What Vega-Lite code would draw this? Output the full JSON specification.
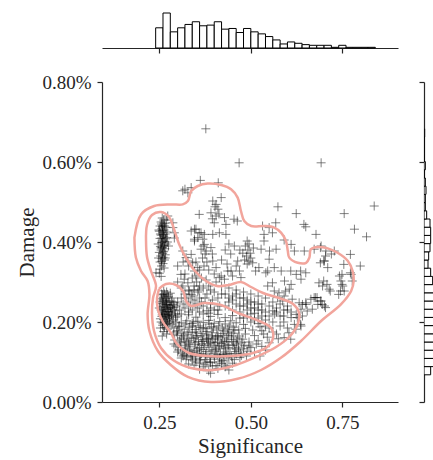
{
  "$schema": "https://vega.github.io/schema/vega-lite/v6.json",
  "autosize": {"type": "pad"},
  "padding": {"left": 16, "top": 12, "right": 0, "bottom": 6},
  "background": "white",
  "bounds": "flush",
  "columns": 2,
  "spacing": {"row": 34, "column": 26},
  "resolve": {"scale": {"x": "independent", "y": "independent"}},
  "config": {
    "view": {"stroke": null},
    "axis": {
      "grid": false,
      "labelFont": "Liberation Serif",
      "labelFontSize": 19,
      "labelColor": "#262626",
      "titleFont": "Liberation Serif",
      "titleFontSize": 21,
      "titleFontWeight": "normal",
      "titleColor": "#262626",
      "domainColor": "#262626",
      "tickColor": "#262626",
      "domainWidth": 1.2,
      "tickWidth": 1.2,
      "tickSize": 5,
      "labelPadding": 6
    }
  },
  "datasets": {
    "sigHist": [
      {"lo":0.24,"hi":0.26,"n":30},{"lo":0.26,"hi":0.28,"n":52},{"lo":0.28,"hi":0.30,"n":24},
      {"lo":0.30,"hi":0.32,"n":30},{"lo":0.32,"hi":0.34,"n":35},{"lo":0.34,"hi":0.36,"n":39},
      {"lo":0.36,"hi":0.38,"n":33},{"lo":0.38,"hi":0.40,"n":34},{"lo":0.40,"hi":0.42,"n":39},
      {"lo":0.42,"hi":0.44,"n":28},{"lo":0.44,"hi":0.46,"n":29},{"lo":0.46,"hi":0.48,"n":23},
      {"lo":0.48,"hi":0.50,"n":29},{"lo":0.50,"hi":0.52,"n":24},{"lo":0.52,"hi":0.54,"n":21},
      {"lo":0.54,"hi":0.56,"n":17},{"lo":0.56,"hi":0.58,"n":12},{"lo":0.58,"hi":0.60,"n":6},
      {"lo":0.60,"hi":0.62,"n":9},{"lo":0.62,"hi":0.64,"n":7},{"lo":0.64,"hi":0.66,"n":5},
      {"lo":0.66,"hi":0.68,"n":4},{"lo":0.68,"hi":0.70,"n":4},{"lo":0.70,"hi":0.72,"n":4},
      {"lo":0.72,"hi":0.74,"n":1},{"lo":0.74,"hi":0.76,"n":4},{"lo":0.76,"hi":0.78,"n":1},
      {"lo":0.78,"hi":0.80,"n":1},{"lo":0.80,"hi":0.82,"n":1},{"lo":0.82,"hi":0.84,"n":1}
    ],
    "dmgHist": [
      {"lo":0.068,"hi":0.0885,"n":10},{"lo":0.0885,"hi":0.109,"n":30},{"lo":0.109,"hi":0.1295,"n":45},
      {"lo":0.1295,"hi":0.15,"n":50},{"lo":0.15,"hi":0.1705,"n":50},{"lo":0.1705,"hi":0.191,"n":48},
      {"lo":0.191,"hi":0.2115,"n":46},{"lo":0.2115,"hi":0.232,"n":42},{"lo":0.232,"hi":0.2525,"n":36},
      {"lo":0.2525,"hi":0.273,"n":28},{"lo":0.273,"hi":0.2935,"n":20},{"lo":0.2935,"hi":0.314,"n":13},
      {"lo":0.314,"hi":0.3345,"n":10},{"lo":0.3345,"hi":0.355,"n":6},{"lo":0.355,"hi":0.3755,"n":7},
      {"lo":0.3755,"hi":0.396,"n":9},{"lo":0.396,"hi":0.4165,"n":10},{"lo":0.4165,"hi":0.437,"n":10},
      {"lo":0.437,"hi":0.4575,"n":9},{"lo":0.4575,"hi":0.478,"n":4},{"lo":0.478,"hi":0.4985,"n":2},
      {"lo":0.4985,"hi":0.519,"n":2},{"lo":0.519,"hi":0.5395,"n":3},{"lo":0.5395,"hi":0.56,"n":2},
      {"lo":0.56,"hi":0.5805,"n":0},{"lo":0.5805,"hi":0.601,"n":2},{"lo":0.601,"hi":0.6215,"n":0},
      {"lo":0.6215,"hi":0.642,"n":0},{"lo":0.642,"hi":0.6625,"n":0},{"lo":0.6625,"hi":0.683,"n":1}
    ],
    "levels": [
      {"lvl":1,"i":0,"sig":0.182,"dmg":0.411},{"lvl":1,"i":1,"sig":0.200,"dmg":0.469},{"lvl":1,"i":2,"sig":0.236,"dmg":0.49},
      {"lvl":1,"i":3,"sig":0.282,"dmg":0.494},{"lvl":1,"i":4,"sig":0.314,"dmg":0.494},{"lvl":1,"i":5,"sig":0.328,"dmg":0.5025},
      {"lvl":1,"i":6,"sig":0.337,"dmg":0.5275},{"lvl":1,"i":7,"sig":0.355,"dmg":0.54},{"lvl":1,"i":8,"sig":0.382,"dmg":0.546},
      {"lvl":1,"i":9,"sig":0.419,"dmg":0.5425},{"lvl":1,"i":10,"sig":0.446,"dmg":0.532},{"lvl":1,"i":11,"sig":0.464,"dmg":0.511},
      {"lvl":1,"i":12,"sig":0.473,"dmg":0.4775},{"lvl":1,"i":13,"sig":0.482,"dmg":0.4525},{"lvl":1,"i":14,"sig":0.501,"dmg":0.44},
      {"lvl":1,"i":15,"sig":0.537,"dmg":0.44},{"lvl":1,"i":16,"sig":0.564,"dmg":0.436},{"lvl":1,"i":17,"sig":0.583,"dmg":0.423},
      {"lvl":1,"i":18,"sig":0.596,"dmg":0.4025},{"lvl":1,"i":19,"sig":0.601,"dmg":0.3775},{"lvl":1,"i":20,"sig":0.605,"dmg":0.361},
      {"lvl":1,"i":21,"sig":0.628,"dmg":0.348},{"lvl":1,"i":22,"sig":0.651,"dmg":0.348},{"lvl":1,"i":23,"sig":0.66,"dmg":0.361},
      {"lvl":1,"i":24,"sig":0.664,"dmg":0.382},{"lvl":1,"i":25,"sig":0.683,"dmg":0.3875},{"lvl":1,"i":26,"sig":0.71,"dmg":0.384},
      {"lvl":1,"i":27,"sig":0.737,"dmg":0.373},{"lvl":1,"i":28,"sig":0.765,"dmg":0.3525},{"lvl":1,"i":29,"sig":0.778,"dmg":0.3275},
      {"lvl":1,"i":30,"sig":0.781,"dmg":0.3025},{"lvl":1,"i":31,"sig":0.774,"dmg":0.2775},{"lvl":1,"i":32,"sig":0.746,"dmg":0.244},
      {"lvl":1,"i":33,"sig":0.692,"dmg":0.2025},{"lvl":1,"i":34,"sig":0.637,"dmg":0.1525},{"lvl":1,"i":35,"sig":0.583,"dmg":0.111},
      {"lvl":1,"i":36,"sig":0.528,"dmg":0.08},{"lvl":1,"i":37,"sig":0.464,"dmg":0.058},{"lvl":1,"i":38,"sig":0.391,"dmg":0.05},
      {"lvl":1,"i":39,"sig":0.328,"dmg":0.063},{"lvl":1,"i":40,"sig":0.282,"dmg":0.092},{"lvl":1,"i":41,"sig":0.246,"dmg":0.1275},
      {"lvl":1,"i":42,"sig":0.223,"dmg":0.1775},{"lvl":1,"i":43,"sig":0.218,"dmg":0.219},{"lvl":1,"i":44,"sig":0.223,"dmg":0.269},
      {"lvl":1,"i":45,"sig":0.218,"dmg":0.3025},{"lvl":1,"i":46,"sig":0.2,"dmg":0.3275},{"lvl":1,"i":47,"sig":0.186,"dmg":0.361},
      {"lvl":1,"i":48,"sig":0.182,"dmg":0.411},

      {"lvl":2,"i":0,"sig":0.2137,"dmg":0.4025},{"lvl":2,"i":1,"sig":0.2164,"dmg":0.4425},{"lvl":2,"i":2,"sig":0.23,"dmg":0.4675},
      {"lvl":2,"i":3,"sig":0.2546,"dmg":0.475},{"lvl":2,"i":4,"sig":0.2765,"dmg":0.4625},{"lvl":2,"i":5,"sig":0.29,"dmg":0.4325},
      {"lvl":2,"i":6,"sig":0.3038,"dmg":0.395},{"lvl":2,"i":7,"sig":0.323,"dmg":0.36},{"lvl":2,"i":8,"sig":0.3475,"dmg":0.3275},
      {"lvl":2,"i":9,"sig":0.3776,"dmg":0.3025},{"lvl":2,"i":10,"sig":0.4077,"dmg":0.29},{"lvl":2,"i":11,"sig":0.4405,"dmg":0.2925},
      {"lvl":2,"i":12,"sig":0.4732,"dmg":0.30},{"lvl":2,"i":13,"sig":0.5005,"dmg":0.2875},{"lvl":2,"i":14,"sig":0.5333,"dmg":0.2725},
      {"lvl":2,"i":15,"sig":0.577,"dmg":0.26},{"lvl":2,"i":16,"sig":0.6153,"dmg":0.245},{"lvl":2,"i":17,"sig":0.6317,"dmg":0.2225},
      {"lvl":2,"i":18,"sig":0.6262,"dmg":0.19},{"lvl":2,"i":19,"sig":0.6044,"dmg":0.1625},{"lvl":2,"i":20,"sig":0.5689,"dmg":0.1375},
      {"lvl":2,"i":21,"sig":0.5142,"dmg":0.1125},{"lvl":2,"i":22,"sig":0.4596,"dmg":0.0925},{"lvl":2,"i":23,"sig":0.3967,"dmg":0.08},
      {"lvl":2,"i":24,"sig":0.3366,"dmg":0.085},{"lvl":2,"i":25,"sig":0.2874,"dmg":0.105},{"lvl":2,"i":26,"sig":0.2546,"dmg":0.135},
      {"lvl":2,"i":27,"sig":0.2355,"dmg":0.1775},{"lvl":2,"i":28,"sig":0.23,"dmg":0.2225},{"lvl":2,"i":29,"sig":0.2328,"dmg":0.26},
      {"lvl":2,"i":30,"sig":0.241,"dmg":0.29},{"lvl":2,"i":31,"sig":0.2273,"dmg":0.3275},{"lvl":2,"i":32,"sig":0.2164,"dmg":0.3625},
      {"lvl":2,"i":33,"sig":0.2137,"dmg":0.4025},

      {"lvl":3,"i":0,"sig":0.2492,"dmg":0.2825},{"lvl":3,"i":1,"sig":0.2682,"dmg":0.295},{"lvl":3,"i":2,"sig":0.2956,"dmg":0.2925},
      {"lvl":3,"i":3,"sig":0.3148,"dmg":0.2775},{"lvl":3,"i":4,"sig":0.323,"dmg":0.2525},{"lvl":3,"i":5,"sig":0.3366,"dmg":0.24},
      {"lvl":3,"i":6,"sig":0.3721,"dmg":0.2475},{"lvl":3,"i":7,"sig":0.4186,"dmg":0.2425},{"lvl":3,"i":8,"sig":0.465,"dmg":0.2225},
      {"lvl":3,"i":9,"sig":0.5224,"dmg":0.2025},{"lvl":3,"i":10,"sig":0.5552,"dmg":0.185},{"lvl":3,"i":11,"sig":0.5607,"dmg":0.16},
      {"lvl":3,"i":12,"sig":0.5443,"dmg":0.1375},{"lvl":3,"i":13,"sig":0.506,"dmg":0.1225},{"lvl":3,"i":14,"sig":0.4459,"dmg":0.115},
      {"lvl":3,"i":15,"sig":0.3803,"dmg":0.115},{"lvl":3,"i":16,"sig":0.3311,"dmg":0.1225},{"lvl":3,"i":17,"sig":0.2983,"dmg":0.145},
      {"lvl":3,"i":18,"sig":0.2819,"dmg":0.1725},{"lvl":3,"i":19,"sig":0.26,"dmg":0.20},{"lvl":3,"i":20,"sig":0.2464,"dmg":0.23},
      {"lvl":3,"i":21,"sig":0.2437,"dmg":0.26},{"lvl":3,"i":22,"sig":0.2492,"dmg":0.2825}
    ],
    "obs": [
      {"sig":0.468,"dmg":0.598},{"sig":0.692,"dmg":0.598},{"sig":0.377,"dmg":0.683},{"sig":0.362,"dmg":0.554},{"sig":0.411,"dmg":0.548},
      {"sig":0.337,"dmg":0.536},{"sig":0.314,"dmg":0.528},{"sig":0.328,"dmg":0.523},{"sig":0.32,"dmg":0.532},{"sig":0.396,"dmg":0.5025},
      {"sig":0.405,"dmg":0.494},{"sig":0.419,"dmg":0.511},{"sig":0.41,"dmg":0.482},{"sig":0.391,"dmg":0.473},{"sig":0.428,"dmg":0.461},
      {"sig":0.405,"dmg":0.465},{"sig":0.359,"dmg":0.469},{"sig":0.4,"dmg":0.448},{"sig":0.432,"dmg":0.444},{"sig":0.402,"dmg":0.488},
      {"sig":0.413,"dmg":0.47},{"sig":0.395,"dmg":0.458},{"sig":0.346,"dmg":0.432},{"sig":0.359,"dmg":0.423},{"sig":0.373,"dmg":0.419},
      {"sig":0.396,"dmg":0.419},{"sig":0.414,"dmg":0.423},{"sig":0.432,"dmg":0.419},{"sig":0.346,"dmg":0.407},{"sig":0.369,"dmg":0.407},
      {"sig":0.454,"dmg":0.457},{"sig":0.463,"dmg":0.4525},{"sig":0.574,"dmg":0.488},{"sig":0.624,"dmg":0.471},{"sig":0.755,"dmg":0.471},
      {"sig":0.837,"dmg":0.49},{"sig":0.783,"dmg":0.432},{"sig":0.816,"dmg":0.413},{"sig":0.65,"dmg":0.438},{"sig":0.645,"dmg":0.444},
      {"sig":0.678,"dmg":0.419},{"sig":0.532,"dmg":0.44},{"sig":0.55,"dmg":0.436},{"sig":0.559,"dmg":0.423},{"sig":0.568,"dmg":0.448},
      {"sig":0.536,"dmg":0.419},{"sig":0.49,"dmg":0.4025},{"sig":0.536,"dmg":0.4025},{"sig":0.591,"dmg":0.405},{"sig":0.61,"dmg":0.394},
      {"sig":0.619,"dmg":0.3775},{"sig":0.569,"dmg":0.382},{"sig":0.551,"dmg":0.3775},{"sig":0.528,"dmg":0.382},{"sig":0.692,"dmg":0.39},
      {"sig":0.705,"dmg":0.3775},{"sig":0.646,"dmg":0.3775},{"sig":0.673,"dmg":0.382},{"sig":0.728,"dmg":0.3775},{"sig":0.772,"dmg":0.369},
      {"sig":0.701,"dmg":0.3525},{"sig":0.71,"dmg":0.336},{"sig":0.742,"dmg":0.315},{"sig":0.746,"dmg":0.3025},{"sig":0.751,"dmg":0.29},
      {"sig":0.755,"dmg":0.2775},{"sig":0.774,"dmg":0.319},{"sig":0.777,"dmg":0.3025},{"sig":0.696,"dmg":0.29},{"sig":0.714,"dmg":0.282},
      {"sig":0.673,"dmg":0.261},{"sig":0.692,"dmg":0.2525},{"sig":0.683,"dmg":0.244},{"sig":0.701,"dmg":0.24},{"sig":0.651,"dmg":0.244},
      {"sig":0.637,"dmg":0.232},{"sig":0.624,"dmg":0.219},{"sig":0.637,"dmg":0.19},{"sig":0.619,"dmg":0.194},{"sig":0.61,"dmg":0.211},
      {"sig":0.69,"dmg":0.386},{"sig":0.72,"dmg":0.37},{"sig":0.704,"dmg":0.365},{"sig":0.699,"dmg":0.3525},{"sig":0.69,"dmg":0.348},
      {"sig":0.799,"dmg":0.34},{"sig":0.754,"dmg":0.344},{"sig":0.749,"dmg":0.319},{"sig":0.772,"dmg":0.323},{"sig":0.749,"dmg":0.294},
      {"sig":0.745,"dmg":0.2775},{"sig":0.74,"dmg":0.269},{"sig":0.717,"dmg":0.2775},{"sig":0.708,"dmg":0.294},{"sig":0.699,"dmg":0.3025},
      {"sig":0.686,"dmg":0.298},{"sig":0.681,"dmg":0.261},{"sig":0.69,"dmg":0.2525},{"sig":0.695,"dmg":0.244},{"sig":0.704,"dmg":0.236},
      {"sig":0.55,"dmg":0.357},{"sig":0.513,"dmg":0.3275},{"sig":0.541,"dmg":0.323},{"sig":0.609,"dmg":0.3275},{"sig":0.636,"dmg":0.3275},
      {"sig":0.65,"dmg":0.323},{"sig":0.559,"dmg":0.298},{"sig":0.577,"dmg":0.273},{"sig":0.591,"dmg":0.265},{"sig":0.613,"dmg":0.257},
      {"sig":0.632,"dmg":0.248},{"sig":0.641,"dmg":0.244},{"sig":0.595,"dmg":0.2775},{"sig":0.65,"dmg":0.248},{"sig":0.664,"dmg":0.257},
      {"sig":0.677,"dmg":0.261},{"sig":0.668,"dmg":0.232},{"sig":0.654,"dmg":0.2275},{"sig":0.641,"dmg":0.215},{"sig":0.627,"dmg":0.211},
      {"sig":0.636,"dmg":0.194},{"sig":0.623,"dmg":0.182},{"sig":0.604,"dmg":0.173},{"sig":0.609,"dmg":0.157},{"sig":0.591,"dmg":0.161},
      {"sig":0.273,"dmg":0.465},{"sig":0.287,"dmg":0.448},{"sig":0.291,"dmg":0.423},{"sig":0.314,"dmg":0.3775},{"sig":0.323,"dmg":0.361},
      {"sig":0.328,"dmg":0.3525},{"sig":0.337,"dmg":0.369},{"sig":0.341,"dmg":0.348},{"sig":0.346,"dmg":0.3275},{"sig":0.355,"dmg":0.336},
      {"sig":0.35,"dmg":0.315},{"sig":0.337,"dmg":0.4275},{"sig":0.35,"dmg":0.432},{"sig":0.364,"dmg":0.423},{"sig":0.355,"dmg":0.411},
      {"sig":0.346,"dmg":0.4025},{"sig":0.373,"dmg":0.394},{"sig":0.364,"dmg":0.382},{"sig":0.378,"dmg":0.3775},{"sig":0.391,"dmg":0.386},
      {"sig":0.396,"dmg":0.3525},{"sig":0.405,"dmg":0.336},{"sig":0.414,"dmg":0.311},{"sig":0.419,"dmg":0.315},{"sig":0.428,"dmg":0.307},
      {"sig":0.437,"dmg":0.3275},{"sig":0.309,"dmg":0.319},{"sig":0.318,"dmg":0.307},{"sig":0.328,"dmg":0.298},{"sig":0.314,"dmg":0.29},
      {"sig":0.332,"dmg":0.2775},{"sig":0.337,"dmg":0.269},{"sig":0.287,"dmg":0.436},{"sig":0.291,"dmg":0.41},
      {"sig":0.37,"dmg":0.39},{"sig":0.375,"dmg":0.37},{"sig":0.368,"dmg":0.36},{"sig":0.38,"dmg":0.35},{"sig":0.372,"dmg":0.34},
      {"sig":0.36,"dmg":0.33},{"sig":0.385,"dmg":0.33},{"sig":0.365,"dmg":0.31},{"sig":0.378,"dmg":0.305},{"sig":0.352,"dmg":0.3},
      {"sig":0.36,"dmg":0.29},{"sig":0.345,"dmg":0.29},{"sig":0.358,"dmg":0.28},
      {"sig":0.485,"dmg":0.39},{"sig":0.492,"dmg":0.38},{"sig":0.498,"dmg":0.372},{"sig":0.488,"dmg":0.365},{"sig":0.5,"dmg":0.36},
      {"sig":0.495,"dmg":0.352},{"sig":0.505,"dmg":0.348},{"sig":0.483,"dmg":0.355},{"sig":0.49,"dmg":0.345},{"sig":0.478,"dmg":0.372},
      {"sig":0.507,"dmg":0.385},{"sig":0.495,"dmg":0.395},{"sig":0.464,"dmg":0.3525},{"sig":0.446,"dmg":0.3275},{"sig":0.469,"dmg":0.3275},
      {"sig":0.473,"dmg":0.311},{"sig":0.45,"dmg":0.315},{"sig":0.522,"dmg":0.336},{"sig":0.546,"dmg":0.3275},{"sig":0.564,"dmg":0.336},
      {"sig":0.583,"dmg":0.3275},{"sig":0.592,"dmg":0.3025},{"sig":0.61,"dmg":0.294},{"sig":0.624,"dmg":0.319},{"sig":0.637,"dmg":0.307},
      {"sig":0.605,"dmg":0.282},{"sig":0.546,"dmg":0.29},{"sig":0.564,"dmg":0.2775},{"sig":0.573,"dmg":0.261},{"sig":0.587,"dmg":0.2525},
      {"sig":0.43,"dmg":0.38},{"sig":0.445,"dmg":0.37},{"sig":0.455,"dmg":0.39},{"sig":0.42,"dmg":0.355},{"sig":0.435,"dmg":0.345},
      {"sig":0.46,"dmg":0.34},{"sig":0.47,"dmg":0.38},{"sig":0.44,"dmg":0.395},
      {"sig":0.258,"dmg":0.46},{"sig":0.262,"dmg":0.455},{"sig":0.255,"dmg":0.45},{"sig":0.265,"dmg":0.447},{"sig":0.26,"dmg":0.442},
      {"sig":0.252,"dmg":0.44},{"sig":0.268,"dmg":0.437},{"sig":0.257,"dmg":0.433},{"sig":0.263,"dmg":0.43},{"sig":0.25,"dmg":0.427},
      {"sig":0.26,"dmg":0.424},{"sig":0.266,"dmg":0.42},{"sig":0.255,"dmg":0.417},{"sig":0.262,"dmg":0.414},{"sig":0.27,"dmg":0.411},
      {"sig":0.252,"dmg":0.409},{"sig":0.259,"dmg":0.405},{"sig":0.264,"dmg":0.402},{"sig":0.256,"dmg":0.398},{"sig":0.268,"dmg":0.395},
      {"sig":0.261,"dmg":0.392},{"sig":0.253,"dmg":0.389},{"sig":0.258,"dmg":0.386},{"sig":0.265,"dmg":0.383},{"sig":0.255,"dmg":0.38},
      {"sig":0.262,"dmg":0.377},{"sig":0.25,"dmg":0.374},{"sig":0.259,"dmg":0.371},{"sig":0.266,"dmg":0.368},{"sig":0.254,"dmg":0.365},
      {"sig":0.26,"dmg":0.362},{"sig":0.257,"dmg":0.358},{"sig":0.264,"dmg":0.355},{"sig":0.252,"dmg":0.35},{"sig":0.26,"dmg":0.346},
      {"sig":0.256,"dmg":0.34},{"sig":0.263,"dmg":0.335},{"sig":0.249,"dmg":0.43},{"sig":0.271,"dmg":0.425},{"sig":0.247,"dmg":0.395},
      {"sig":0.272,"dmg":0.4},{"sig":0.275,"dmg":0.39},{"sig":0.248,"dmg":0.36},{"sig":0.27,"dmg":0.455},{"sig":0.252,"dmg":0.332},
      {"sig":0.25,"dmg":0.322},{"sig":0.241,"dmg":0.323},{"sig":0.255,"dmg":0.314},
      {"sig":0.256,"dmg":0.445},{"sig":0.264,"dmg":0.44},{"sig":0.259,"dmg":0.428},{"sig":0.253,"dmg":0.42},{"sig":0.267,"dmg":0.408},
      {"sig":0.258,"dmg":0.4},{"sig":0.263,"dmg":0.39},{"sig":0.255,"dmg":0.385},{"sig":0.26,"dmg":0.375},{"sig":0.266,"dmg":0.36},
      {"sig":0.256,"dmg":0.352},{"sig":0.259,"dmg":0.438},{"sig":0.261,"dmg":0.418},{"sig":0.257,"dmg":0.41},
      {"sig":0.262,"dmg":0.278},{"sig":0.27,"dmg":0.275},{"sig":0.28,"dmg":0.272},{"sig":0.258,"dmg":0.268},{"sig":0.266,"dmg":0.265},
      {"sig":0.275,"dmg":0.263},{"sig":0.285,"dmg":0.26},{"sig":0.255,"dmg":0.258},{"sig":0.262,"dmg":0.255},{"sig":0.27,"dmg":0.253},
      {"sig":0.278,"dmg":0.25},{"sig":0.29,"dmg":0.248},{"sig":0.258,"dmg":0.246},{"sig":0.266,"dmg":0.244},{"sig":0.274,"dmg":0.242},
      {"sig":0.282,"dmg":0.24},{"sig":0.26,"dmg":0.238},{"sig":0.268,"dmg":0.236},{"sig":0.277,"dmg":0.234},{"sig":0.286,"dmg":0.232},
      {"sig":0.255,"dmg":0.23},{"sig":0.263,"dmg":0.228},{"sig":0.271,"dmg":0.226},{"sig":0.28,"dmg":0.224},{"sig":0.259,"dmg":0.222},
      {"sig":0.267,"dmg":0.22},{"sig":0.275,"dmg":0.218},{"sig":0.284,"dmg":0.216},{"sig":0.257,"dmg":0.214},{"sig":0.265,"dmg":0.212},
      {"sig":0.273,"dmg":0.21},{"sig":0.262,"dmg":0.206},{"sig":0.27,"dmg":0.203},{"sig":0.279,"dmg":0.2},{"sig":0.26,"dmg":0.197},
      {"sig":0.268,"dmg":0.194},{"sig":0.276,"dmg":0.19},{"sig":0.264,"dmg":0.186},{"sig":0.272,"dmg":0.182},{"sig":0.252,"dmg":0.25},
      {"sig":0.25,"dmg":0.235},{"sig":0.253,"dmg":0.208},{"sig":0.292,"dmg":0.228},{"sig":0.295,"dmg":0.212},{"sig":0.288,"dmg":0.205},
      {"sig":0.298,"dmg":0.24},{"sig":0.261,"dmg":0.262},{"sig":0.269,"dmg":0.249},{"sig":0.281,"dmg":0.237},{"sig":0.264,"dmg":0.24},
      {"sig":0.272,"dmg":0.231},{"sig":0.258,"dmg":0.218},{"sig":0.278,"dmg":0.208},{"sig":0.268,"dmg":0.258},{"sig":0.283,"dmg":0.252},
      {"sig":0.255,"dmg":0.2},{"sig":0.262,"dmg":0.176},{"sig":0.27,"dmg":0.17},{"sig":0.258,"dmg":0.165},{"sig":0.253,"dmg":0.185},
      {"sig":0.256,"dmg":0.27},{"sig":0.264,"dmg":0.27},{"sig":0.273,"dmg":0.268},{"sig":0.259,"dmg":0.252},{"sig":0.271,"dmg":0.244},
      {"sig":0.262,"dmg":0.232},{"sig":0.276,"dmg":0.226},{"sig":0.257,"dmg":0.225},{"sig":0.269,"dmg":0.215},{"sig":0.263,"dmg":0.218},
      {"sig":0.277,"dmg":0.213},{"sig":0.266,"dmg":0.2},{"sig":0.259,"dmg":0.192},{"sig":0.272,"dmg":0.196},{"sig":0.283,"dmg":0.22},
      {"sig":0.287,"dmg":0.244},{"sig":0.29,"dmg":0.236},{"sig":0.294,"dmg":0.22},
      {"sig":0.3,"dmg":0.215},{"sig":0.33,"dmg":0.218},{"sig":0.35,"dmg":0.212},{"sig":0.37,"dmg":0.22},{"sig":0.39,"dmg":0.214},
      {"sig":0.41,"dmg":0.219},{"sig":0.43,"dmg":0.211},{"sig":0.45,"dmg":0.216},{"sig":0.47,"dmg":0.21},{"sig":0.49,"dmg":0.214},
      {"sig":0.51,"dmg":0.205},{"sig":0.295,"dmg":0.2},{"sig":0.31,"dmg":0.198},{"sig":0.325,"dmg":0.203},{"sig":0.34,"dmg":0.196},
      {"sig":0.355,"dmg":0.202},{"sig":0.37,"dmg":0.199},{"sig":0.385,"dmg":0.204},{"sig":0.40,"dmg":0.197},{"sig":0.415,"dmg":0.201},
      {"sig":0.43,"dmg":0.195},{"sig":0.445,"dmg":0.203},{"sig":0.46,"dmg":0.198},{"sig":0.48,"dmg":0.194},{"sig":0.5,"dmg":0.2},
      {"sig":0.52,"dmg":0.196},{"sig":0.54,"dmg":0.19},{"sig":0.29,"dmg":0.185},{"sig":0.302,"dmg":0.188},{"sig":0.318,"dmg":0.182},
      {"sig":0.333,"dmg":0.187},{"sig":0.348,"dmg":0.181},{"sig":0.362,"dmg":0.186},{"sig":0.377,"dmg":0.183},{"sig":0.392,"dmg":0.188},
      {"sig":0.407,"dmg":0.18},{"sig":0.422,"dmg":0.185},{"sig":0.437,"dmg":0.182},{"sig":0.452,"dmg":0.187},{"sig":0.467,"dmg":0.18},
      {"sig":0.485,"dmg":0.184},{"sig":0.505,"dmg":0.18},{"sig":0.53,"dmg":0.178},{"sig":0.56,"dmg":0.175},{"sig":0.288,"dmg":0.17},
      {"sig":0.3,"dmg":0.167},{"sig":0.312,"dmg":0.172},{"sig":0.326,"dmg":0.168},{"sig":0.34,"dmg":0.173},{"sig":0.353,"dmg":0.166},
      {"sig":0.367,"dmg":0.171},{"sig":0.38,"dmg":0.168},{"sig":0.395,"dmg":0.173},{"sig":0.41,"dmg":0.166},{"sig":0.424,"dmg":0.171},
      {"sig":0.438,"dmg":0.167},{"sig":0.452,"dmg":0.172},{"sig":0.468,"dmg":0.165},{"sig":0.485,"dmg":0.17},{"sig":0.51,"dmg":0.166},
      {"sig":0.545,"dmg":0.162},{"sig":0.575,"dmg":0.158},{"sig":0.292,"dmg":0.155},{"sig":0.305,"dmg":0.152},{"sig":0.318,"dmg":0.157},
      {"sig":0.331,"dmg":0.153},{"sig":0.344,"dmg":0.158},{"sig":0.357,"dmg":0.151},{"sig":0.37,"dmg":0.156},{"sig":0.383,"dmg":0.152},
      {"sig":0.396,"dmg":0.157},{"sig":0.409,"dmg":0.15},{"sig":0.422,"dmg":0.155},{"sig":0.435,"dmg":0.151},{"sig":0.448,"dmg":0.156},
      {"sig":0.462,"dmg":0.152},{"sig":0.478,"dmg":0.157},{"sig":0.495,"dmg":0.15},{"sig":0.52,"dmg":0.153},{"sig":0.55,"dmg":0.148},
      {"sig":0.295,"dmg":0.14},{"sig":0.308,"dmg":0.137},{"sig":0.321,"dmg":0.142},{"sig":0.334,"dmg":0.138},{"sig":0.347,"dmg":0.143},
      {"sig":0.36,"dmg":0.136},{"sig":0.373,"dmg":0.141},{"sig":0.386,"dmg":0.137},{"sig":0.399,"dmg":0.142},{"sig":0.412,"dmg":0.135},
      {"sig":0.425,"dmg":0.14},{"sig":0.438,"dmg":0.136},{"sig":0.451,"dmg":0.141},{"sig":0.466,"dmg":0.137},{"sig":0.482,"dmg":0.142},
      {"sig":0.5,"dmg":0.136},{"sig":0.53,"dmg":0.139},{"sig":0.3,"dmg":0.125},{"sig":0.313,"dmg":0.122},{"sig":0.326,"dmg":0.127},
      {"sig":0.339,"dmg":0.123},{"sig":0.352,"dmg":0.128},{"sig":0.365,"dmg":0.121},{"sig":0.378,"dmg":0.126},{"sig":0.391,"dmg":0.122},
      {"sig":0.404,"dmg":0.127},{"sig":0.417,"dmg":0.12},{"sig":0.43,"dmg":0.125},{"sig":0.443,"dmg":0.121},{"sig":0.457,"dmg":0.126},
      {"sig":0.472,"dmg":0.122},{"sig":0.49,"dmg":0.127},{"sig":0.51,"dmg":0.124},{"sig":0.31,"dmg":0.11},{"sig":0.323,"dmg":0.107},
      {"sig":0.336,"dmg":0.112},{"sig":0.349,"dmg":0.108},{"sig":0.362,"dmg":0.113},{"sig":0.375,"dmg":0.106},{"sig":0.388,"dmg":0.111},
      {"sig":0.401,"dmg":0.107},{"sig":0.414,"dmg":0.112},{"sig":0.427,"dmg":0.105},{"sig":0.44,"dmg":0.11},{"sig":0.455,"dmg":0.106},
      {"sig":0.47,"dmg":0.111},{"sig":0.33,"dmg":0.095},{"sig":0.345,"dmg":0.092},{"sig":0.36,"dmg":0.097},{"sig":0.375,"dmg":0.093},
      {"sig":0.39,"dmg":0.098},{"sig":0.405,"dmg":0.091},{"sig":0.42,"dmg":0.096},{"sig":0.435,"dmg":0.092},{"sig":0.45,"dmg":0.097},
      {"sig":0.36,"dmg":0.082},{"sig":0.385,"dmg":0.078},{"sig":0.41,"dmg":0.084},{"sig":0.44,"dmg":0.08},{"sig":0.39,"dmg":0.072},
      {"sig":0.31,"dmg":0.16},{"sig":0.33,"dmg":0.145},{"sig":0.35,"dmg":0.162},{"sig":0.37,"dmg":0.131},{"sig":0.39,"dmg":0.148},
      {"sig":0.41,"dmg":0.163},{"sig":0.43,"dmg":0.133},{"sig":0.36,"dmg":0.118},{"sig":0.38,"dmg":0.176},{"sig":0.34,"dmg":0.19},
      {"sig":0.32,"dmg":0.133},{"sig":0.4,"dmg":0.115},{"sig":0.42,"dmg":0.146},{"sig":0.44,"dmg":0.175},{"sig":0.46,"dmg":0.145},
      {"sig":0.3,"dmg":0.178},{"sig":0.315,"dmg":0.115},{"sig":0.345,"dmg":0.125},{"sig":0.365,"dmg":0.145},{"sig":0.385,"dmg":0.16},
      {"sig":0.405,"dmg":0.132},{"sig":0.425,"dmg":0.118},{"sig":0.455,"dmg":0.133},{"sig":0.475,"dmg":0.148},
      {"sig":0.285,"dmg":0.195},{"sig":0.297,"dmg":0.175},{"sig":0.305,"dmg":0.19},{"sig":0.316,"dmg":0.165},{"sig":0.322,"dmg":0.195},
      {"sig":0.329,"dmg":0.175},{"sig":0.337,"dmg":0.16},{"sig":0.343,"dmg":0.2},{"sig":0.351,"dmg":0.175},{"sig":0.358,"dmg":0.19},
      {"sig":0.364,"dmg":0.165},{"sig":0.371,"dmg":0.185},{"sig":0.379,"dmg":0.158},{"sig":0.386,"dmg":0.195},{"sig":0.393,"dmg":0.165},
      {"sig":0.398,"dmg":0.185},{"sig":0.404,"dmg":0.16},{"sig":0.412,"dmg":0.19},{"sig":0.418,"dmg":0.165},{"sig":0.426,"dmg":0.178},
      {"sig":0.433,"dmg":0.16},{"sig":0.441,"dmg":0.19},{"sig":0.447,"dmg":0.165},{"sig":0.456,"dmg":0.18},{"sig":0.463,"dmg":0.16},
      {"sig":0.29,"dmg":0.145},{"sig":0.302,"dmg":0.13},{"sig":0.309,"dmg":0.148},{"sig":0.318,"dmg":0.118},{"sig":0.325,"dmg":0.15},
      {"sig":0.333,"dmg":0.13},{"sig":0.34,"dmg":0.115},{"sig":0.348,"dmg":0.148},{"sig":0.355,"dmg":0.133},{"sig":0.363,"dmg":0.105},
      {"sig":0.368,"dmg":0.152},{"sig":0.376,"dmg":0.118},{"sig":0.383,"dmg":0.145},{"sig":0.389,"dmg":0.1},{"sig":0.394,"dmg":0.13},
      {"sig":0.402,"dmg":0.148},{"sig":0.408,"dmg":0.118},{"sig":0.415,"dmg":0.14},{"sig":0.421,"dmg":0.103},{"sig":0.428,"dmg":0.15},
      {"sig":0.434,"dmg":0.12},{"sig":0.44,"dmg":0.143},{"sig":0.447,"dmg":0.113},{"sig":0.453,"dmg":0.15},{"sig":0.46,"dmg":0.12},
      {"sig":0.467,"dmg":0.13},{"sig":0.474,"dmg":0.116},{"sig":0.48,"dmg":0.133},{"sig":0.488,"dmg":0.115},{"sig":0.495,"dmg":0.14},
      {"sig":0.35,"dmg":0.1},{"sig":0.37,"dmg":0.088},{"sig":0.395,"dmg":0.09},{"sig":0.415,"dmg":0.1},{"sig":0.43,"dmg":0.088},
      {"sig":0.34,"dmg":0.105},{"sig":0.325,"dmg":0.115},{"sig":0.38,"dmg":0.1},
      {"sig":0.52,"dmg":0.21},{"sig":0.54,"dmg":0.205},{"sig":0.56,"dmg":0.2},{"sig":0.58,"dmg":0.19},{"sig":0.6,"dmg":0.185},
      {"sig":0.55,"dmg":0.185},{"sig":0.57,"dmg":0.17},{"sig":0.535,"dmg":0.17},{"sig":0.59,"dmg":0.2},{"sig":0.61,"dmg":0.225},
      {"sig":0.6,"dmg":0.23},{"sig":0.58,"dmg":0.215},{"sig":0.565,"dmg":0.22},{"sig":0.525,"dmg":0.188},{"sig":0.515,"dmg":0.145},
      {"sig":0.54,"dmg":0.13},{"sig":0.525,"dmg":0.115},
      {"sig":0.42,"dmg":0.29},{"sig":0.44,"dmg":0.285},{"sig":0.46,"dmg":0.28},{"sig":0.48,"dmg":0.275},{"sig":0.5,"dmg":0.27},
      {"sig":0.52,"dmg":0.265},{"sig":0.54,"dmg":0.26},{"sig":0.56,"dmg":0.25},{"sig":0.58,"dmg":0.245},{"sig":0.6,"dmg":0.24},
      {"sig":0.43,"dmg":0.27},{"sig":0.45,"dmg":0.265},{"sig":0.47,"dmg":0.26},{"sig":0.49,"dmg":0.255},{"sig":0.51,"dmg":0.25},
      {"sig":0.53,"dmg":0.245},{"sig":0.55,"dmg":0.24},{"sig":0.57,"dmg":0.235},{"sig":0.59,"dmg":0.23},{"sig":0.44,"dmg":0.25},
      {"sig":0.46,"dmg":0.245},{"sig":0.48,"dmg":0.24},{"sig":0.5,"dmg":0.235},{"sig":0.52,"dmg":0.23},{"sig":0.54,"dmg":0.225},
      {"sig":0.56,"dmg":0.228},{"sig":0.45,"dmg":0.23},{"sig":0.47,"dmg":0.225},{"sig":0.49,"dmg":0.23},{"sig":0.51,"dmg":0.222},
      {"sig":0.53,"dmg":0.215},{"sig":0.41,"dmg":0.26},{"sig":0.415,"dmg":0.24},{"sig":0.4,"dmg":0.275},{"sig":0.395,"dmg":0.255},
      {"sig":0.38,"dmg":0.27},{"sig":0.36,"dmg":0.26},{"sig":0.35,"dmg":0.245},{"sig":0.37,"dmg":0.24},{"sig":0.39,"dmg":0.235},
      {"sig":0.41,"dmg":0.23},{"sig":0.43,"dmg":0.24},{"sig":0.33,"dmg":0.25},{"sig":0.32,"dmg":0.235},{"sig":0.34,"dmg":0.23},
      {"sig":0.36,"dmg":0.225},{"sig":0.38,"dmg":0.228},{"sig":0.31,"dmg":0.26},{"sig":0.34,"dmg":0.265},{"sig":0.355,"dmg":0.275},
      {"sig":0.45,"dmg":0.255},{"sig":0.47,"dmg":0.24},{"sig":0.49,"dmg":0.245},{"sig":0.51,"dmg":0.235},{"sig":0.53,"dmg":0.23},
      {"sig":0.55,"dmg":0.215},{"sig":0.57,"dmg":0.225},{"sig":0.59,"dmg":0.215},{"sig":0.48,"dmg":0.26},{"sig":0.5,"dmg":0.25},
      {"sig":0.52,"dmg":0.245},{"sig":0.46,"dmg":0.27},{"sig":0.42,"dmg":0.27},{"sig":0.44,"dmg":0.26},{"sig":0.5,"dmg":0.22},
      {"sig":0.48,"dmg":0.21},
      {"sig":0.3,"dmg":0.25},{"sig":0.305,"dmg":0.23},{"sig":0.315,"dmg":0.245},{"sig":0.325,"dmg":0.26},{"sig":0.335,"dmg":0.24},
      {"sig":0.345,"dmg":0.255},{"sig":0.32,"dmg":0.27},{"sig":0.31,"dmg":0.22},{"sig":0.33,"dmg":0.225},{"sig":0.355,"dmg":0.235},
      {"sig":0.365,"dmg":0.25},{"sig":0.375,"dmg":0.26},{"sig":0.39,"dmg":0.245},{"sig":0.4,"dmg":0.23},{"sig":0.385,"dmg":0.222},
      {"sig":0.345,"dmg":0.28},{"sig":0.37,"dmg":0.285},{"sig":0.39,"dmg":0.28},
      {"sig":0.3,"dmg":0.3},{"sig":0.31,"dmg":0.285},{"sig":0.32,"dmg":0.32},{"sig":0.33,"dmg":0.34},{"sig":0.34,"dmg":0.31},
      {"sig":0.3,"dmg":0.34},{"sig":0.315,"dmg":0.35},{"sig":0.33,"dmg":0.28},{"sig":0.35,"dmg":0.35},{"sig":0.395,"dmg":0.37},
      {"sig":0.4,"dmg":0.32},{"sig":0.385,"dmg":0.29},{"sig":0.405,"dmg":0.3}
    ]
  },
  "concat": [
    {
      "width": 296,
      "height": 35,
      "data": {"name": "sigHist"},
      "mark": {"type": "bar", "fill": "white", "stroke": "black", "strokeWidth": 1},
      "encoding": {
        "x": {"field": "lo", "type": "quantitative",
              "scale": {"domain": [0.0934, 0.902], "nice": false, "zero": false},
              "axis": {"values": [0.25, 0.5, 0.75], "labels": false, "title": null, "orient": "bottom"}},
        "x2": {"field": "hi"},
        "y": {"field": "n", "type": "quantitative",
              "scale": {"domain": [0, 52], "nice": false}, "axis": null},
        "y2": {"datum": 0}
      }
    },
    {
      "width": 10,
      "height": 35,
      "data": {"values": [{"blank": 0}]},
      "mark": {"type": "point", "opacity": 0},
      "encoding": {}
    },
    {
      "width": 296,
      "height": 320,
      "layer": [
        {
          "data": {"name": "obs"},
          "mark": {"type": "point", "shape": "M-1,0L1,0M0,-1L0,1", "filled": false,
                   "stroke": "black", "strokeWidth": 1, "strokeOpacity": 0.7, "size": 81},
          "encoding": {
            "x": {"field": "sig", "type": "quantitative",
                  "scale": {"domain": [0.0934, 0.902], "nice": false, "zero": false},
                  "axis": {"values": [0.25, 0.5, 0.75], "format": ".2f", "title": "Significance", "titlePadding": 3}},
            "y": {"field": "dmg", "type": "quantitative",
                  "scale": {"domain": [0, 0.8], "nice": false},
                  "axis": {"values": [0, 0.2, 0.4, 0.6, 0.8], "labelExpr": "format(datum.value, '.2f') + '%'",
                           "title": "Damage", "titlePadding": 4}}
          }
        },
        {
          "data": {"name": "levels"},
          "mark": {"type": "line", "interpolate": "catmull-rom", "stroke": "#f2a59c", "strokeWidth": 2.5},
          "encoding": {
            "x": {"field": "sig", "type": "quantitative"},
            "y": {"field": "dmg", "type": "quantitative"},
            "detail": {"field": "lvl", "type": "nominal"},
            "order": {"field": "i", "type": "quantitative"}
          }
        }
      ]
    },
    {
      "width": 10,
      "height": 320,
      "data": {"name": "dmgHist"},
      "mark": {"type": "bar", "fill": "white", "stroke": "black", "strokeWidth": 1, "clip": true},
      "encoding": {
        "y": {"field": "lo", "type": "quantitative",
              "scale": {"domain": [0, 0.8], "nice": false},
              "axis": {"values": [0, 0.2, 0.4, 0.6, 0.8], "labels": false, "title": null, "orient": "left"}},
        "y2": {"field": "hi"},
        "x": {"field": "n", "type": "quantitative",
              "scale": {"domain": [0, 15], "nice": false}, "axis": null},
        "x2": {"datum": 0}
      }
    }
  ]
}
